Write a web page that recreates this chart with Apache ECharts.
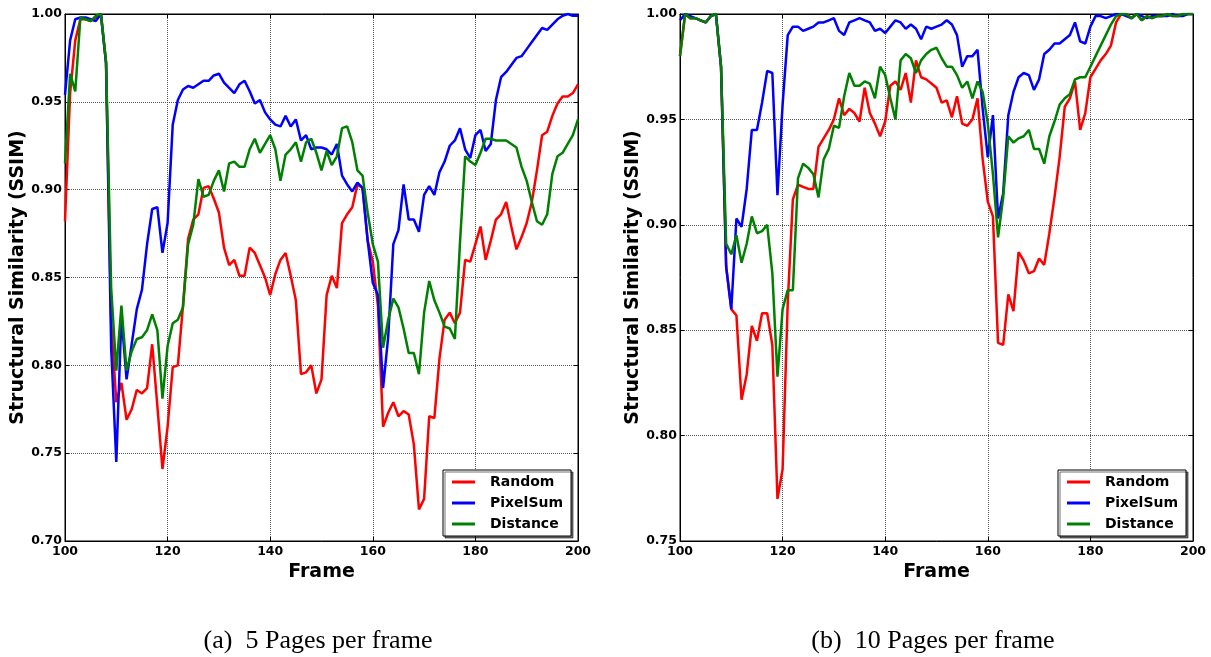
<!DOCTYPE html>
<html>
<head>
<meta charset="utf-8">
<script src="https://cdn.jsdelivr.net/npm/echarts@6/dist/echarts.min.js"></script>
<style>
  html, body { margin: 0; padding: 0; background: #fff; }
  #chart { width: 1211px; height: 657px; }
</style>
</head>
<body>
<div id="chart"></div>
<script>
// frames 100..200
var frames = [];
for (var f = 100; f <= 200; f++) frames.push(f);

// (a) 5 pages per frame
var randomA = [
  0.882, 0.955, 0.985, 0.997, 0.997, 0.996, 0.998, 1.000, 0.972, 0.825,
  0.779, 0.790, 0.769, 0.775, 0.786, 0.784, 0.787, 0.812, 0.777, 0.741,
  0.765, 0.799, 0.800, 0.834, 0.872, 0.883, 0.886, 0.901, 0.902, 0.895,
  0.887, 0.867, 0.857, 0.860, 0.851, 0.851, 0.867, 0.864, 0.857, 0.850,
  0.840, 0.852, 0.860, 0.864, 0.851, 0.837, 0.795, 0.796, 0.800, 0.784,
  0.792, 0.840, 0.851, 0.844, 0.881, 0.886, 0.890, 0.903, 0.901, 0.871,
  0.859, 0.834, 0.765, 0.773, 0.779, 0.771, 0.774, 0.772, 0.755, 0.718,
  0.724, 0.771, 0.770, 0.804, 0.826, 0.830, 0.824, 0.830, 0.860, 0.859,
  0.869, 0.879, 0.860, 0.871, 0.883, 0.886, 0.893, 0.879, 0.866, 0.873,
  0.881, 0.893, 0.911, 0.931, 0.933, 0.942, 0.949, 0.953, 0.953, 0.955,
  0.960
];
var pixelA = [
  0.954, 0.985, 0.997, 0.998, 0.998, 0.997, 0.996, 1.000, 0.972, 0.810,
  0.745, 0.828, 0.792, 0.812, 0.832, 0.843, 0.869, 0.889, 0.890, 0.864,
  0.881, 0.937, 0.951, 0.957, 0.959, 0.958, 0.960, 0.962, 0.962, 0.965,
  0.966, 0.961, 0.958, 0.955, 0.960, 0.962, 0.956, 0.949, 0.951, 0.944,
  0.940, 0.937, 0.936, 0.942, 0.936, 0.940, 0.928, 0.931, 0.923, 0.924,
  0.924, 0.923, 0.920, 0.926, 0.908, 0.903, 0.899, 0.904, 0.901, 0.871,
  0.847, 0.840, 0.787, 0.816, 0.869, 0.877, 0.903, 0.883, 0.883, 0.876,
  0.897, 0.902, 0.897, 0.910, 0.916, 0.925, 0.928, 0.935, 0.923, 0.918,
  0.931, 0.934, 0.922, 0.926, 0.951, 0.964, 0.967, 0.971, 0.975, 0.976,
  0.980, 0.984, 0.988, 0.992, 0.991, 0.994, 0.997, 0.999, 1.000, 0.999,
  0.999
];
var distA = [
  0.915, 0.966, 0.956, 0.998, 0.997, 0.996, 0.999, 1.000, 0.973, 0.844,
  0.797, 0.834, 0.797, 0.808, 0.815, 0.816, 0.820, 0.829, 0.820, 0.781,
  0.811, 0.824, 0.826, 0.833, 0.869, 0.880, 0.906, 0.896, 0.897, 0.905,
  0.911, 0.899, 0.915, 0.916, 0.913, 0.913, 0.923, 0.929, 0.921, 0.926,
  0.931, 0.923, 0.905, 0.920, 0.923, 0.927, 0.916, 0.927, 0.929, 0.921,
  0.911, 0.922, 0.914, 0.919, 0.935, 0.936, 0.927, 0.911, 0.908, 0.887,
  0.869, 0.859, 0.810, 0.826, 0.838, 0.833, 0.821, 0.807, 0.807, 0.795,
  0.830, 0.848, 0.837, 0.830, 0.822, 0.821, 0.815, 0.870, 0.919, 0.916,
  0.914, 0.921, 0.929, 0.929, 0.928, 0.928, 0.928, 0.926, 0.924, 0.913,
  0.905, 0.893, 0.882, 0.880, 0.886, 0.909, 0.919, 0.921, 0.926, 0.931,
  0.940
];

// (b) 10 pages per frame
var randomB = [
  0.980, 1.000, 0.998, 0.998, 0.997, 0.996, 0.999, 1.000, 0.975, 0.880,
  0.860, 0.857, 0.817, 0.829, 0.852, 0.845, 0.858, 0.858, 0.843, 0.770,
  0.784, 0.863, 0.912, 0.919, 0.918, 0.917, 0.917, 0.937, 0.941, 0.945,
  0.950, 0.960, 0.952, 0.955, 0.953, 0.949, 0.965, 0.953, 0.948, 0.942,
  0.949, 0.966, 0.968, 0.964, 0.972, 0.958, 0.978, 0.970, 0.969, 0.967,
  0.965, 0.958, 0.959, 0.951, 0.961, 0.948, 0.947, 0.950, 0.960, 0.931,
  0.911, 0.904, 0.844, 0.843, 0.867, 0.859, 0.887, 0.883, 0.877, 0.878,
  0.884, 0.881, 0.896, 0.913, 0.932, 0.956, 0.960, 0.968, 0.945, 0.953,
  0.970, 0.974, 0.978, 0.981, 0.985, 0.996, 1.000, 1.000, 0.998, 1.000,
  0.997, 0.999, 0.998, 0.999, 0.999, 1.000, 0.999, 0.999, 1.000, 1.000,
  1.000
];
var pixelB = [
  0.997, 1.000, 0.999, 0.998, 0.997, 0.996, 0.999, 1.000, 0.975, 0.880,
  0.860, 0.903, 0.899, 0.917, 0.945, 0.945, 0.958, 0.973, 0.972, 0.914,
  0.957, 0.990, 0.994, 0.994, 0.992, 0.993, 0.994, 0.996, 0.996, 0.997,
  0.998, 0.992, 0.990, 0.996, 0.997, 0.998, 0.997, 0.996, 0.992, 0.993,
  0.991, 0.994, 0.997, 0.996, 0.993, 0.995, 0.993, 0.988, 0.994, 0.993,
  0.994, 0.995, 0.997, 0.995, 0.990, 0.975, 0.980, 0.980, 0.983, 0.955,
  0.932, 0.952, 0.903, 0.915, 0.952, 0.963, 0.970, 0.972, 0.971, 0.964,
  0.969, 0.981, 0.983, 0.986, 0.986, 0.988, 0.990, 0.996, 0.987, 0.986,
  0.994, 0.999, 0.999, 0.998, 0.999, 1.000, 1.000, 0.999, 0.998, 1.000,
  0.999, 0.998, 0.999, 0.999, 0.999, 0.999, 1.000, 0.999, 0.999, 1.000,
  1.000
];
var distB = [
  0.980, 1.000, 0.998, 0.998, 0.997, 0.996, 0.999, 1.000, 0.975, 0.891,
  0.886, 0.895, 0.882, 0.891, 0.904, 0.896, 0.897, 0.900, 0.877, 0.828,
  0.860, 0.869, 0.869, 0.922, 0.929, 0.927, 0.924, 0.913, 0.931, 0.936,
  0.947, 0.946, 0.961, 0.972, 0.966, 0.966, 0.968, 0.967, 0.960, 0.975,
  0.971, 0.960, 0.950, 0.978, 0.981, 0.979, 0.972, 0.978, 0.981, 0.983,
  0.984, 0.979, 0.975, 0.975, 0.971, 0.965, 0.968, 0.960, 0.968, 0.963,
  0.948, 0.924, 0.894, 0.913, 0.942, 0.939, 0.941, 0.942, 0.945, 0.936,
  0.936, 0.929, 0.942, 0.949, 0.957, 0.960, 0.962, 0.969, 0.970, 0.970,
  0.975, 0.980, 0.985, 0.990, 0.995, 0.999, 1.000, 1.000, 0.998, 1.000,
  0.997, 0.999, 0.998, 0.999, 0.999, 1.000, 0.999, 0.999, 1.000, 1.000,
  1.000
];

var names = ['Random', 'PixelSum', 'Distance'];
var colors = ['#ff0000', '#0000ff', '#008000'];
var font = 'DejaVu Sans';

function pairs(arr) {
  return frames.map(function (f, i) { return [f, arr[i]]; });
}

function xAx(grid) {
  return {
    type: 'value', gridIndex: grid, min: 100, max: 200, interval: 20,
    name: 'Frame', nameLocation: 'middle', nameGap: 6,
    nameTextStyle: { color: '#000', fontFamily: font, fontWeight: 'bold', fontSize: 19 },
    axisLine: { lineStyle: { color: '#000', width: 1 } },
    axisTick: { inside: true, length: 4, lineStyle: { color: '#000' } },
    axisLabel: { color: '#000', fontFamily: font, fontWeight: 'bold', fontSize: 12.5, margin: 4 },
    splitLine: { show: true, lineStyle: { color: '#555', type: 'dotted', width: 1 } }
  };
}
function yAx(grid, min) {
  return {
    type: 'value', gridIndex: grid, min: min, max: 1.0, interval: 0.05,
    name: 'Structural Similarity (SSIM)', nameLocation: 'middle', nameGap: 26,
    nameTextStyle: { color: '#000', fontFamily: font, fontWeight: 'bold', fontSize: 19 },
    axisLine: { show: true, lineStyle: { color: '#000', width: 1 } },
    axisTick: { show: true, inside: true, length: 4, lineStyle: { color: '#000' } },
    axisLabel: {
      color: '#000', fontFamily: font, fontWeight: 'bold', fontSize: 12.5, margin: 3,
      formatter: function (v) { return v.toFixed(2); }
    },
    splitLine: { show: true, lineStyle: { color: '#555', type: 'dotted', width: 1 } }
  };
}
// tick-only axes on top / right, like matplotlib
function xTop(grid) {
  return {
    type: 'value', gridIndex: grid, min: 100, max: 200, interval: 20, position: 'top',
    axisLine: { lineStyle: { color: '#000' } },
    axisTick: { inside: true, length: 4, lineStyle: { color: '#000' } },
    axisLabel: { show: false }, splitLine: { show: false }
  };
}
function yRight(grid, min) {
  return {
    type: 'value', gridIndex: grid, min: min, max: 1.0, interval: 0.05, position: 'right',
    axisLine: { show: true, lineStyle: { color: '#000' } },
    axisTick: { show: true, inside: true, length: 4, lineStyle: { color: '#000' } },
    axisLabel: { show: false }, splitLine: { show: false }
  };
}
function legendAt(left) {
  return {
    data: names, orient: 'vertical', left: left, top: 470,
    icon: 'rect', itemWidth: 23, itemHeight: 3, itemGap: 7,
    padding: [5, 8, 5, 9],
    backgroundColor: '#fff', borderColor: '#000', borderWidth: 1,
    shadowColor: 'rgba(0,0,0,0.55)', shadowBlur: 0, shadowOffsetX: 2, shadowOffsetY: 2,
    textStyle: { color: '#000', fontFamily: font, fontWeight: 'bold', fontSize: 14, padding: [0, 0, 0, 10] },
    selectedMode: false
  };
}

var sets = [[randomA, pixelA, distA], [randomB, pixelB, distB]];
var series = [];
sets.forEach(function (set, g) {
  set.forEach(function (arr, k) {
    series.push({
      name: names[k], type: 'line', xAxisIndex: g, yAxisIndex: g,
      data: pairs(arr), showSymbol: false, symbol: 'none',
      lineStyle: { color: colors[k], width: 2.5 }, itemStyle: { color: colors[k] },
      z: 2 + k
    });
  });
});

var chart = echarts.init(document.getElementById('chart'));
chart.setOption({
  animation: false,
  backgroundColor: '#fff',
  title: [
    { text: '(a)  5 Pages per frame', left: 313, top: 623, textAlign: 'center',
      textStyle: { fontFamily: 'Liberation Serif', fontWeight: 'normal', fontSize: 26, color: '#000' } },
    { text: '(b)  10 Pages per frame', left: 928, top: 623, textAlign: 'center',
      textStyle: { fontFamily: 'Liberation Serif', fontWeight: 'normal', fontSize: 26, color: '#000' } }
  ],
  grid: [
    { left: 65, top: 14, width: 513, height: 527, show: true, borderColor: '#000', borderWidth: 1 },
    { left: 680, top: 14, width: 513, height: 527, show: true, borderColor: '#000', borderWidth: 1 }
  ],
  xAxis: [xAx(0), xAx(1), xTop(0), xTop(1)],
  yAxis: [yAx(0, 0.70), yAx(1, 0.75), yRight(0, 0.70), yRight(1, 0.75)],
  legend: [legendAt(443), legendAt(1058)],
  series: series
});
</script>
</body>
</html>
